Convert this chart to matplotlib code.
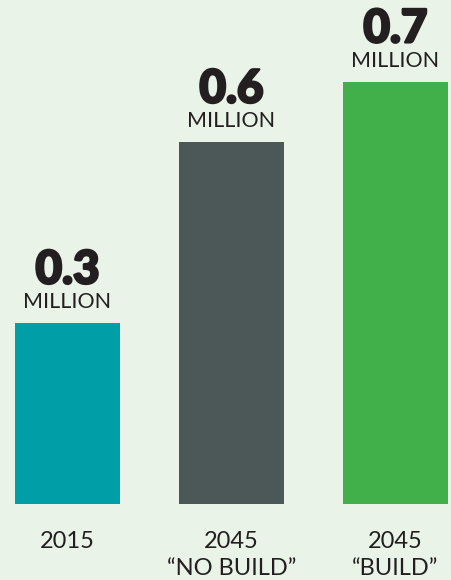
import matplotlib
matplotlib.use("Agg")
import matplotlib.pyplot as plt
from matplotlib import font_manager as fm
import matplotlib.patheffects as pe

categories = ["2015", "2045\n\u201cNO BUILD\u201d", "2045\n\u201cBUILD\u201d"]
values = [0.3, 0.6, 0.7]
value_labels = ["0.3", "0.6", "0.7"]
unit_label = "MILLION"
colors = ["#009fa8", "#4b5857", "#41b04b"]

bg = "#e9f3e7"
txt = "#231f20"

fams = {f.name for f in fm.fontManager.ttflist}
font = "Lato" if "Lato" in fams else "DejaVu Sans"

fig = plt.figure(figsize=(4.51, 5.80), dpi=100, facecolor=bg)
ax = fig.add_axes([0, 0, 1, 1])
ax.set_facecolor(bg)

px_per_x = 164.0
x0 = 67.5
ax.set_xlim(-x0 / px_per_x, (451 - x0) / px_per_x)
px_per_y = 603.0
ybase = 504.0
ax.set_ylim(-(580 - ybase) / px_per_y, ybase / px_per_y)

xs = list(range(len(values)))
ax.bar(xs, values, width=105 / px_per_x, color=colors, zorder=2)

for x, v, lab in zip(xs, values, value_labels):
    ax.annotate(unit_label, (x, v), xytext=(0, 10.8), textcoords="offset points",
                ha="center", va="baseline", fontsize=15.5, color=txt, family=font)
    ax.annotate(lab, (x, v), xytext=(0, 28.5), textcoords="offset points",
                ha="center", va="baseline", fontsize=33, color=txt, family=font,
                fontweight="black",
                path_effects=[pe.withStroke(linewidth=1.8, foreground=txt)])

for x, cat in zip(xs, categories):
    for i, line in enumerate(cat.split("\n")):
        ax.annotate(line, (x, 0), xytext=(0, -31.7 - i * 19.6), textcoords="offset points",
                    ha="center", va="baseline", fontsize=17, color=txt, family=font)

ax.axis("off")
fig.savefig("out.png", dpi=100, facecolor=bg)
